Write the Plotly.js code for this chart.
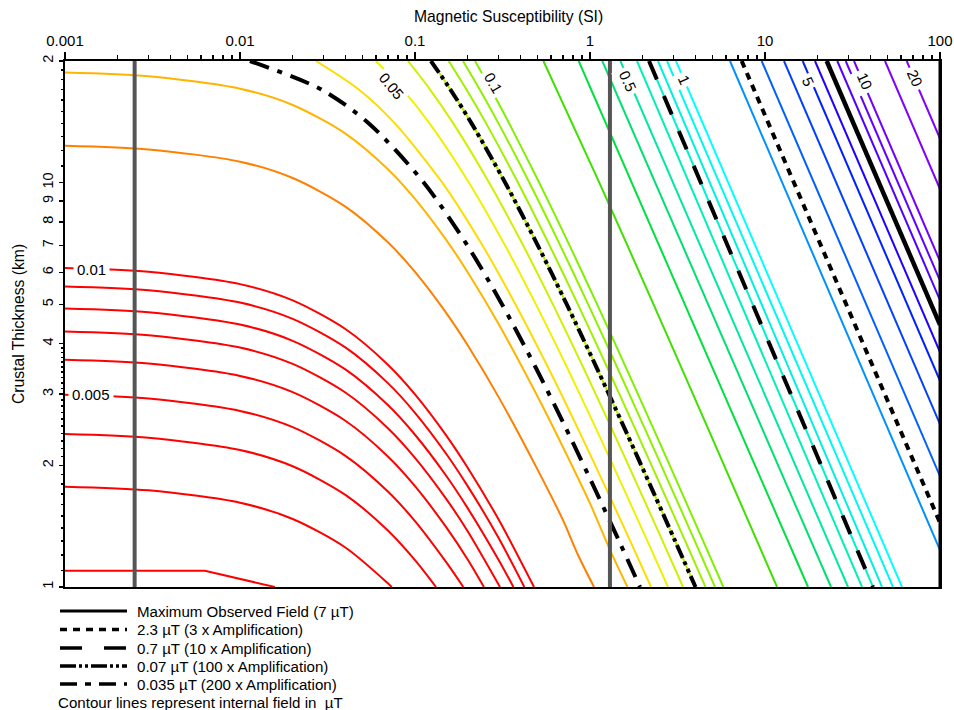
<!DOCTYPE html>
<html><head><meta charset="utf-8">
<script src="https://cdn.plot.ly/plotly-3.0.1.min.js"></script>
<style>html,body{margin:0;padding:0;background:#fff}#chart{width:954px;height:710px}</style>
</head><body><div id="chart"></div><script>
// ---- contour levels (internal field, µT) ----
const levels = ['0.002','0.003','0.004','0.005','0.006','0.007','0.008','0.009','0.01',
  '0.02','0.03','0.04','0.05','0.06','0.07','0.08','0.09','0.1',
  '0.2','0.3','0.4','0.5','0.6','0.7','0.8','0.9','1',
  '2','3','4','5','6','7','8','9','10','15','20'];
// susceptibility (SI) points along each contour
const contourK = [
 [0.001,0.0063,0.0158],
 [0.001,0.003,0.01,0.02,0.04,0.07,0.0736],
 [0.001,0.003,0.01,0.02,0.04,0.07,0.1,0.1318],
 [0.001,0.003,0.01,0.02,0.04,0.07,0.1,0.15,0.1888],
 [0.001,0.003,0.01,0.02,0.04,0.07,0.1,0.15,0.2,0.2477],
 [0.001,0.003,0.01,0.02,0.04,0.07,0.1,0.15,0.2,0.306],
 [0.001,0.003,0.01,0.02,0.04,0.07,0.1,0.15,0.2,0.3,0.365],
 [0.001,0.003,0.01,0.02,0.04,0.07,0.1,0.15,0.2,0.3,0.4213],
 [0.001,0.003,0.01,0.02,0.04,0.07,0.1,0.15,0.2,0.3,0.4786],
 [0.001,0.003,0.01,0.02,0.04,0.07,0.1,0.15,0.2,0.3,0.5,0.7,0.85,1.054],
 [0.001,0.003,0.01,0.02,0.04,0.07,0.1,0.15,0.2,0.3,0.5,0.7,1.0,1.3,1.637],
 [0.0272,0.0477,0.0769,0.1432,0.2427,0.3753,0.5743,0.8395,1.2764,1.6964,2.232],
 [0.0598,0.0852,0.1214,0.2035,0.3267,0.4909,0.7372,1.0657,1.6066,2.1268,2.79],
 [0.0912,0.1219,0.1658,0.2653,0.4146,0.6136,0.9122,1.3102,1.9658,2.5962,3.40],
 [0.1233,0.1594,0.2109,0.3278,0.5030,0.7367,1.0872,1.5545,2.3242,3.0644,4.008],
 [0.1558,0.1968,0.2554,0.3881,0.5872,0.8528,1.2511,1.7821,2.6567,3.4977,4.57],
 [0.188,0.2344,0.3006,0.4507,0.6759,0.9762,1.4266,2.0271,3.0163,3.9674,5.18],
 [0.2203,0.2720,0.3457,0.5129,0.7637,1.0981,1.5998,2.2686,3.3702,4.4295,5.78],
 [0.542,1.1303,2.3069,4.6602,11.72],
 [0.8618,17.61],
 [1.176,23.84],
 [1.492,29.81],
 [1.856,35.84],
 [2.174,41.41],
 [2.447,46.63],
 [2.754,53.87],
 [3.10,60.66],
 [6.31,100],
 [9.575,100],
 [12.84,100],
 [16.42,100],
 [19.31,100],
 [22.52,100],
 [25.89,100],
 [28.92,100],
 [32.26,100],
 [48.5,100],
 [64.53,100]
];
// crustal thickness (km) points along each contour
const contourH = [
 [1.097,1.097,1.0],
 [1.771,1.734,1.616,1.473,1.252,1.021,1.0],
 [2.391,2.341,2.182,1.989,1.690,1.379,1.165,1.0],
 [2.987,2.925,2.726,2.485,2.111,1.723,1.455,1.155,1.0],
 [3.646,3.570,3.327,3.033,2.577,2.103,1.776,1.410,1.170,1.0],
 [4.284,4.195,3.910,3.563,3.027,2.471,2.087,1.657,1.374,1.0],
 [4.886,4.784,4.459,4.064,3.453,2.818,2.380,1.890,1.567,1.168,1.0],
 [5.537,5.422,5.053,4.606,3.913,3.193,2.697,2.142,1.776,1.324,1.0],
 [6.150,6.022,5.612,5.116,4.346,3.547,2.996,2.379,1.973,1.470,1.0],
 [12.35,12.09,11.27,10.27,8.728,7.122,6.016,4.777,3.962,2.953,1.957,1.465,1.205,1.0],
 [18.72,18.33,17.08,15.57,13.23,10.80,9.119,7.241,6.005,4.476,2.967,2.220,1.610,1.236,1.0],
 [20,17,14,10,7,5,3.5,2.5,1.7,1.3,1],
 [20,17,14,10,7,5,3.5,2.5,1.7,1.3,1],
 [20,17,14,10,7,5,3.5,2.5,1.7,1.3,1],
 [20,17,14,10,7,5,3.5,2.5,1.7,1.3,1],
 [20,17,14,10,7,5,3.5,2.5,1.7,1.3,1],
 [20,17,14,10,7,5,3.5,2.5,1.7,1.3,1],
 [20,17,14,10,7,5,3.5,2.5,1.7,1.3,1],
 [20,10,5,2.5,1],
 [20,1],[20,1],[20,1],[20,1],[20,1],[20,1],[20,1],[20,1],
 [20,1.234],
 [20,1.880],
 [20,2.527],
 [20,3.237],
 [20,3.811],
 [20,4.450],
 [20,5.122],
 [20,5.724],
 [20,6.394],
 [20,9.643],
 [20,12.86]
];
// special (amplification) lines
const ampK_2p3 = [7.36,100];
const ampH_2p3 = [20,1.442];
const ampK_0p035 = [0.0114,0.0292,0.0547,0.1124,0.1990,0.3145,0.4877,0.7186,1.099,1.4647,1.931];
const ampH_0p035 = [20,17,14,10,7,5,3.5,2.5,1.7,1.3,1];
// vertical reference susceptibilities
const refK = [0.0025, 1.3];
const thickSpan = [1, 20];
// axis ticks
const xTickVals = [0.001,0.01,0.1,1,10,100];
const xTickText = ['0.001','0.01','0.1','1','10','100'];
const yTickVals = [1,2,3,4,5,6,7,8,9,10,20];
const yTickText = ['1','2','3','4','5','6','7','8','9','10','2'];
// inline contour labels
const labelText = ['0.01','0.005','0.05','0.1','0.5','1','5','10','20'];
const labelLogK = [-2.851,-2.851,-1.137,-0.554,0.217,0.537,1.246,1.571,1.857];
const labelLogH = [0.786,0.475,1.240,1.2475,1.25,1.255,1.25,1.25,1.257];
const labelAngle = [0,0,50,60,66,66,66,66,66];
// legend entries
const legendText = ['Maximum Observed Field (7 µT)','2.3 µT (3 x Amplification)','0.7 µT (10 x Amplification)',
  '0.07 µT (100 x Amplification)','0.035 µT (200 x Amplification)'];

const colors = ['#ff0000','#ff0000','#ff0000','#ff0000','#ff0000','#ff0000','#ff0000','#ff0000','#ff0000',
  '#ff8000','#ffb400','#ffdc00','#f0f000','#d0f000','#b8f000','#a0f000','#90f000','#80f000',
  '#40e000','#00e040','#00e070','#00e8a0','#00f0b8','#00f0d0','#00f0e0','#00f8f0','#00ffff',
  '#0090ff','#0060ff','#0040ff','#0020ff','#2000ff','#4000ff','#5000ff','#6000ff','#7000ff','#8000ff','#8000ff'];

const traces = [];
levels.forEach((lv,i)=>{
  const curved = i>0 && contourK[i].length>2;
  traces.push({type:'scatter',mode:'lines',x:contourK[i],y:contourH[i],name:lv,
    line:{color:colors[i],width:2,shape:curved?'spline':'linear',smoothing:0.8},hoverinfo:'skip',showlegend:false});
});
const idx = l=>levels.indexOf(l);
const black = (x,y,dash,w)=>({type:'scatter',mode:'lines',x:x,y:y,line:{color:'#000',width:w,dash:dash,shape:'spline',smoothing:0.8},hoverinfo:'skip',showlegend:false});
traces.push(black(contourK[idx('7')],contourH[idx('7')],'solid',4.5));
traces.push(black(ampK_2p3,ampH_2p3,'7px,6px',4));
traces.push(black(contourK[idx('0.7')],contourH[idx('0.7')],'20px,18px',4));
traces.push(black(contourK[idx('0.07')],contourH[idx('0.07')],'14px,4px,4px,4px,4px,4px',4));
traces.push(black(ampK_0p035,ampH_0p035,'20px,9px,5px,9px',4));
refK.forEach(k=>traces.push({type:'scatter',mode:'lines',x:[k,k],y:thickSpan,line:{color:'#555555',width:4},hoverinfo:'skip',showlegend:false}));

const xMinor=[];[0.001,0.01,0.1,1,10].forEach(d=>{for(let m=2;m<=9;m++)xMinor.push(+(m*d).toPrecision(3));});
const yMinor=[];for(let v=11;v<40;v++){if(v%10)yMinor.push(v/10);}for(let v=11;v<20;v++)yMinor.push(v);

const font = 'Liberation Sans, Arial, sans-serif';
const annotations = labelText.map((t,i)=>({xref:'x',yref:'y',x:labelLogK[i],y:labelLogH[i],text:t,showarrow:false,
  textangle:labelAngle[i],bgcolor:'#ffffff',borderpad:3,font:{family:font,size:15,color:'#000'}}));
const pxX = p=>(p-65)/875, pxY = p=>(587-p)/526;
const legendY = [611,629.5,648,666,684];
const legendDash = ['solid','7px,6px','22px,22px','16px,3px,3px,3px,3px,3px','17px,8px,6px,8px'];
const shapes = legendDash.map((d,i)=>({type:'line',xref:'paper',yref:'paper',x0:pxX(60),x1:pxX(127),y0:pxY(legendY[i]),y1:pxY(legendY[i]),
  line:{color:'#000',width:i===0?3:3.5,dash:d}}));
shapes.push({type:'line',xref:'paper',yref:'paper',x0:1,x1:1,y0:0,y1:1,line:{color:'#000',width:3}});
legendText.forEach((t,i)=>annotations.push({xref:'paper',yref:'paper',x:pxX(135),y:pxY(legendY[i]),xanchor:'left',yanchor:'middle',
  text:t,showarrow:false,font:{family:font,size:15.1,color:'#000'}}));
annotations.push({xref:'paper',yref:'paper',x:pxX(56),y:pxY(702),xanchor:'left',yanchor:'middle',
  text:'Contour lines represent internal field in  µT',showarrow:false,font:{family:font,size:15.1,color:'#000'}});
annotations.push({xref:'paper',yref:'paper',x:pxX(508),y:pxY(16),xanchor:'center',yanchor:'middle',
  text:'Magnetic Susceptibility (SI)',showarrow:false,font:{family:font,size:15.7,color:'#000'}});
annotations.push({xref:'paper',yref:'paper',x:pxX(18),y:pxY(324),xanchor:'center',yanchor:'middle',textangle:-90,
  text:'Crustal Thickness (km)',showarrow:false,font:{family:font,size:15.7,color:'#000'}});

const layout = {
  width:954,height:710,margin:{l:65,r:14,t:61,b:123},paper_bgcolor:'#fff',plot_bgcolor:'#fff',
  font:{family:font,size:14,color:'#000'},showlegend:false,
  xaxis:{type:'log',range:[-3,2],side:'top',tickmode:'array',tickvals:xTickVals,ticktext:xTickText,
    ticks:'outside',ticklen:7,tickwidth:1.5,tickcolor:'#000',showline:true,linewidth:2,linecolor:'#000',mirror:true,
    showgrid:false,zeroline:false,tickfont:{size:15},
    minor:{tickmode:'array',tickvals:xMinor,ticks:'outside',ticklen:4,tickwidth:1.5,tickcolor:'#000',showgrid:false}},
  yaxis:{type:'log',range:[0,1.30103],tickmode:'array',tickvals:yTickVals,ticktext:yTickText,tickangle:-90,
    ticks:'outside',ticklen:4,tickwidth:1.5,tickcolor:'#000',showline:true,linewidth:2,linecolor:'#000',mirror:true,
    showgrid:false,zeroline:false,tickfont:{size:14.5},
    minor:{tickmode:'array',tickvals:yMinor,ticks:'outside',ticklen:2,tickwidth:1.5,tickcolor:'#000',showgrid:false}},
  annotations:annotations,shapes:shapes
};
Plotly.newPlot('chart',traces,layout,{displayModeBar:false,staticPlot:true});
</script></body></html>
